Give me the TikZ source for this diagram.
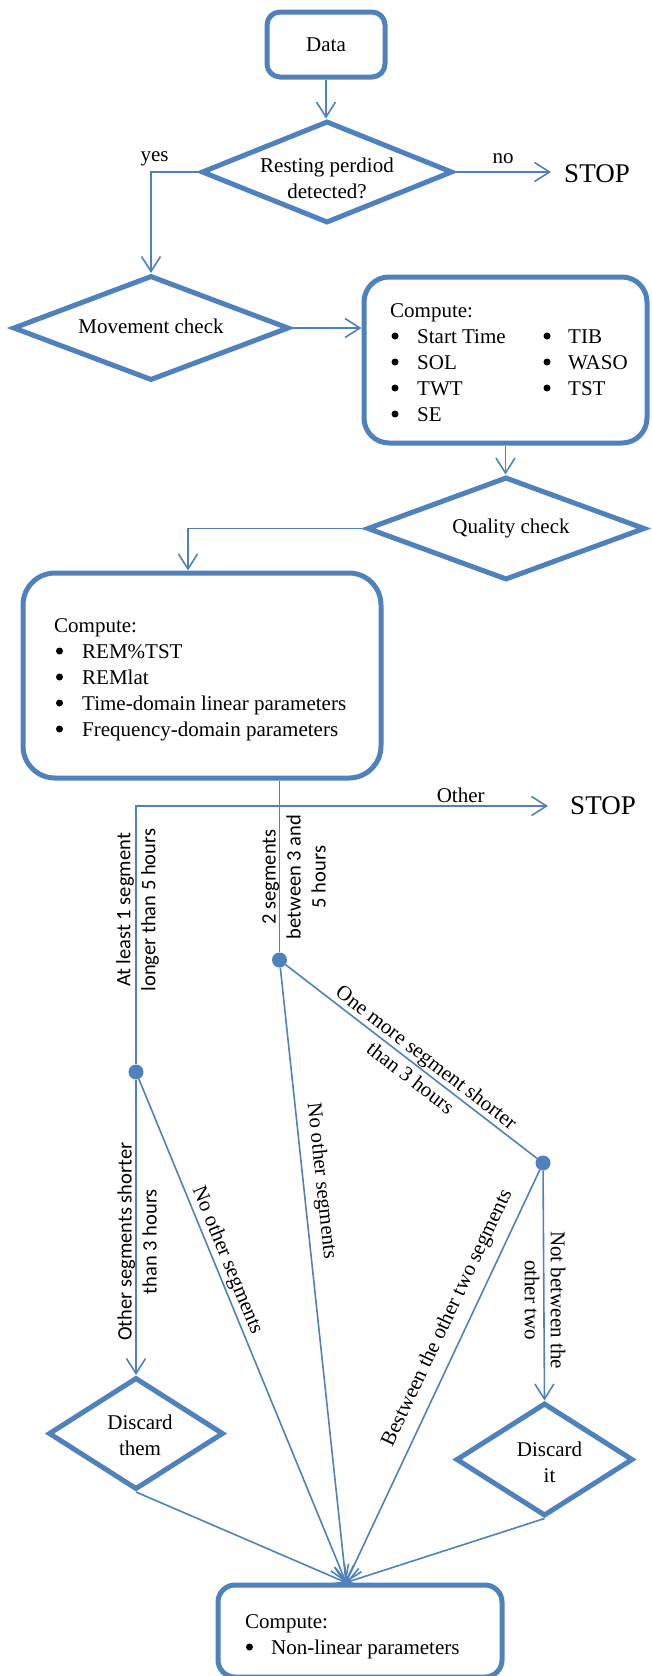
\documentclass[tikz,border=0pt]{standalone}
\usepackage{fontspec}
\setmainfont{Liberation Serif}
\newfontfamily\carlitofont{Carlito}
\usetikzlibrary{arrows.meta,shapes.geometric,calc}
\definecolor{ob}{HTML}{4F81BD}
\begin{document}
\begin{tikzpicture}[x=1pt,y=-1pt,
  font=\fontsize{21}{26}\selectfont,
  conn/.style={draw=ob,line width=1.6pt},
  arr/.style={conn,-{Straight Barb[length=15pt,width=19pt]}},
  rbox/.style={draw=ob,line width=5pt,rounded corners=#1,inner sep=0pt},
  dia/.style={diamond,draw=ob,line width=5pt,inner sep=0pt},
  dot/.style={circle,fill=ob,inner sep=0pt,minimum size=15pt},
  bul/.style={circle,fill=black,inner sep=0pt,minimum size=7pt},
  stoptxt/.style={font=\fontsize{27}{30}\selectfont,inner ysep=0pt},
  clab/.style={font=\carlitofont\fontsize{20.5}{25}\selectfont,align=center,inner sep=0pt},
  slab/.style={align=center},
  item/.style={anchor=base west,inner sep=0pt}]
\useasboundingbox (0,0) rectangle (651,1676);

% ---- nodes ----
\node[rbox=13pt,minimum width=118pt,minimum height=65pt] (data) at (326,44.5) {Data};
\node[dia,minimum width=251pt,minimum height=102pt,
  label={[align=center,yshift=-6pt]center:Resting perdiod\\detected?}] (rest) at (327,172) {};
\node[stoptxt,inner xsep=13pt] (stop1) at (597,174) {STOP};
\node[dia,minimum width=276pt,minimum height=105pt,
  label={[yshift=2pt]center:Movement check}] (move) at (151,328) {};
\node[rbox=25pt,minimum width=283pt,minimum height=166pt] (comp1) at (505.5,360) {};
\node[item] (c1t) at (390,317) {Compute:};
\node[bul] (c1b1) at (395,336) {}; \node[item] (c1i1) at (417,343) {Start Time};
\node[bul] (c1b2) at (395,362) {}; \node[item] (c1i2) at (417,369) {SOL};
\node[bul] (c1b3) at (395,388) {}; \node[item] (c1i3) at (417,395) {TWT};
\node[bul] (c1b4) at (395,414) {}; \node[item] (c1i4) at (417,421) {SE};
\node[bul] (c1b5) at (547,336) {}; \node[item] (c1i5) at (568,343) {TIB};
\node[bul] (c1b6) at (547,362) {}; \node[item] (c1i6) at (568,369) {WASO};
\node[bul] (c1b7) at (547,388) {}; \node[item] (c1i7) at (568,395) {TST};

\node[dia,minimum width=278pt,minimum height=103pt,
  label={[xshift=5pt]center:Quality check}] (qual) at (506,528.5) {};
\node[rbox=32pt,minimum width=358pt,minimum height=205pt] (comp2) at (202,675.5) {};
\node[item] (c2t) at (54,632) {Compute:};
\node[bul] (c2b1) at (59.5,651) {}; \node[item] (c2i1) at (82,658) {REM\%TST};
\node[bul] (c2b2) at (59.5,677) {}; \node[item] (c2i2) at (82,684) {REMlat};
\node[bul] (c2b3) at (59.5,703) {}; \node[item] (c2i3) at (82,710) {Time-domain linear parameters};
\node[bul] (c2b4) at (59.5,729) {}; \node[item] (c2i4) at (82,736) {Frequency-domain parameters};

\node[stoptxt,inner xsep=22pt] (stop2) at (603,806) {STOP};
\node[dot] (dot1) at (136,1072) {};
\node[dot] (dot2) at (279.5,960) {};
\node[dot] (dot3) at (543,1163) {};

\node[dia,minimum width=175pt,minimum height=112pt,
  label={[align=center,xshift=4pt,yshift=-2pt]center:Discard\\them}] (dthem) at (136,1433.5) {};
\node[dia,minimum width=177pt,minimum height=113pt,
  label={[align=center,xshift=5pt,yshift=-2.5pt]center:Discard\\it}] (dit) at (544.5,1459.5) {};
\node[rbox=17pt,minimum width=284pt,minimum height=92pt] (comp3) at (360,1631) {};
\node[item] (c3t) at (245,1628) {Compute:};
\node[bul] (c3b1) at (249.5,1647) {}; \node[item] (c3i1) at (271,1654) {Non-linear parameters};
\coordinate (conv) at ([xshift=-14pt]comp3.north);

% ---- connectors ----
\draw[arr] (data.south) -- (data.south |- rest.north);
\draw[arr] (rest.west) -| node[pos=0.5,above,inner sep=5pt,xshift=3.5pt] (yes) {yes} (move.north);
\draw[arr] (rest.east) -- node[midway,above,inner sep=7pt] (no) {no} (rest.east -| stop1.west);
\draw[arr] (move.east) -- (move.east -| comp1.west);
\draw[arr] (comp1.south) -- (comp1.south |- qual.north);
\draw[arr] (qual.west) -| ([xshift=-14pt]comp2.north);
\draw[conn] (comp2.south -| dot2) -- (dot2);
\draw[arr] (dot1) |- node[pos=0.894,above,inner sep=3pt] (other) {Other} (stop2.west);
\draw[arr] (dot1) -- (dthem.north);
\draw[arr] (dot1) -- node[slab,sloped,above,inner sep=2pt,pos=0.37] (no1) {No other segments} (conv);
\draw[arr] (dot2) -- node[slab,sloped,above,inner sep=7.5pt,pos=0.35] (no2) {No other segments} (conv);
\draw[conn] (dot2) -- node[slab,sloped,inner sep=0pt,pos=0.53] (onemore) {One more segment shorter\\than 3 hours} (dot3);
\draw[arr] (dot3) -- (dit.north);
\draw[arr] (dot3) -- node[slab,sloped,above,inner sep=10pt,pos=0.38] (betw) {Bestween the other two segments} (conv);
\draw[arr] (dthem.south) -- (conv);
\draw[arr] (dit.south) -- (conv);

% ---- vertical labels ----
\node[clab,rotate=90] (l1) at (137.5,910) {At least 1 segment\\longer than 5 hours};
\node[clab,rotate=90] (l2) at (294,877) {2 segments\\between 3 and\\5 hours};
\node[clab,rotate=90] (l3) at (137,1241.5) {Other segments shorter\\than 3 hours};
\node[slab,inner sep=0pt,rotate=-90] (l4) at (545,1300) {Not between the\\other two};
\end{tikzpicture}
\end{document}
